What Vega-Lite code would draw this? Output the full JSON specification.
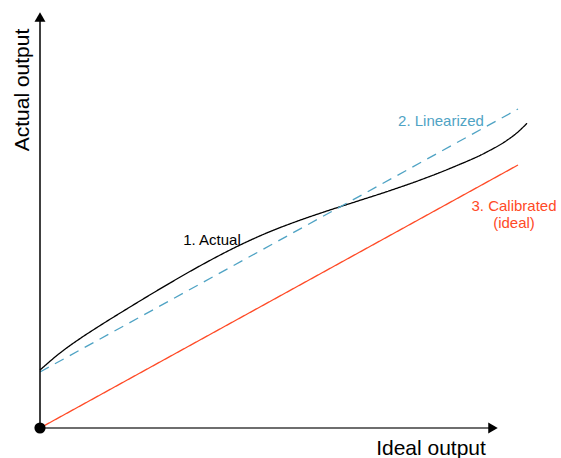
{
  "$schema": "https://vega.github.io/schema/vega-lite/v6.json",
  "width": 561,
  "height": 458,
  "autosize": {"type": "none"},
  "padding": 0,
  "background": "white",
  "config": {"view": {"stroke": null}},
  "datasets": {
    "curves": [
      {"series": "Actual", "x": 0, "y": 1.16},
      {"series": "Actual", "x": 0.4, "y": 1.5},
      {"series": "Actual", "x": 0.8, "y": 1.788},
      {"series": "Actual", "x": 1.2, "y": 2.048},
      {"series": "Actual", "x": 1.8, "y": 2.42},
      {"series": "Actual", "x": 2.6, "y": 2.9},
      {"series": "Actual", "x": 3.26, "y": 3.276},
      {"series": "Actual", "x": 3.94, "y": 3.63},
      {"series": "Actual", "x": 4.6, "y": 3.928},
      {"series": "Actual", "x": 5.2, "y": 4.156},
      {"series": "Actual", "x": 5.66, "y": 4.314},
      {"series": "Actual", "x": 6.34, "y": 4.534},
      {"series": "Actual", "x": 7.0, "y": 4.748},
      {"series": "Actual", "x": 7.6, "y": 4.958},
      {"series": "Actual", "x": 8.26, "y": 5.216},
      {"series": "Actual", "x": 8.94, "y": 5.522},
      {"series": "Actual", "x": 9.34, "y": 5.754},
      {"series": "Actual", "x": 9.54, "y": 5.904},
      {"series": "Actual", "x": 9.74, "y": 6.094},
      {"series": "Linearized", "x": 0, "y": 1.12},
      {"series": "Linearized", "x": 9.56, "y": 6.38},
      {"series": "Calibrated", "x": 0, "y": 0},
      {"series": "Calibrated", "x": 9.56, "y": 5.26}
    ],
    "axes": [
      {"name": "y", "x": 0, "y": 0, "x2": 0, "y2": 8.2, "color": "#000000", "w": 1.5},
      {"name": "x", "x": 0, "y": 0, "x2": 9.0, "y2": 0, "color": "#6e6e6e", "w": 2}
    ],
    "arrows": [
      {"shape": "triangle-up", "x": 0, "y": 8.22},
      {"shape": "triangle-right", "x": 9.06, "y": 0}
    ],
    "labels": [
      {"text": "1. Actual", "x": 3.44, "y": 3.66, "series": "Actual"},
      {"text": "2. Linearized", "x": 8.02, "y": 6.04, "series": "Linearized"},
      {"text": "3. Calibrated", "x": 9.48, "y": 4.34, "series": "Calibrated"},
      {"text": "(ideal)", "x": 9.48, "y": 4.0, "series": "Calibrated"}
    ],
    "titles": [
      {"text": "Ideal output", "x": 7.82, "y": -0.54, "angle": 0},
      {"text": "Actual output", "x": -0.22, "y": 6.76, "angle": 270}
    ]
  },
  "layer": [
    {
      "data": {"name": "curves"},
      "mark": {"type": "line", "interpolate": "monotone", "strokeWidth": 1.3},
      "encoding": {
        "x": {"field": "x", "type": "quantitative", "scale": {"domain": [-0.8, 10.42], "nice": false, "zero": false}, "axis": null},
        "y": {"field": "y", "type": "quantitative", "scale": {"domain": [-0.6, 8.56], "nice": false, "zero": false}, "axis": null},
        "color": {"field": "series", "type": "nominal", "scale": {"domain": ["Actual", "Linearized", "Calibrated"], "range": ["#000000", "#4fa3c4", "#ff4a26"]}, "legend": null},
        "strokeDash": {"field": "series", "type": "nominal", "scale": {"domain": ["Actual", "Linearized", "Calibrated"], "range": [[1, 0], [10, 7], [1, 0]]}, "legend": null}
      }
    },
    {
      "data": {"name": "axes"},
      "mark": {"type": "rule"},
      "encoding": {
        "x": {"field": "x", "type": "quantitative"},
        "y": {"field": "y", "type": "quantitative"},
        "x2": {"field": "x2"},
        "y2": {"field": "y2"},
        "stroke": {"field": "color", "type": "nominal", "scale": null},
        "strokeWidth": {"field": "w", "type": "quantitative", "scale": null}
      }
    },
    {
      "data": {"name": "arrows"},
      "mark": {"type": "point", "filled": true, "color": "#000000", "size": 120, "opacity": 1},
      "encoding": {
        "x": {"field": "x", "type": "quantitative"},
        "y": {"field": "y", "type": "quantitative"},
        "shape": {"field": "shape", "type": "nominal", "scale": null}
      }
    },
    {
      "data": {"values": [{"x": 0, "y": 0}]},
      "mark": {"type": "circle", "color": "#000000", "size": 125, "opacity": 1},
      "encoding": {
        "x": {"field": "x", "type": "quantitative"},
        "y": {"field": "y", "type": "quantitative"}
      }
    },
    {
      "data": {"name": "labels"},
      "mark": {"type": "text", "font": "Liberation Sans", "fontSize": 15, "baseline": "alphabetic", "align": "center"},
      "encoding": {
        "x": {"field": "x", "type": "quantitative"},
        "y": {"field": "y", "type": "quantitative"},
        "text": {"field": "text"},
        "color": {"field": "series", "type": "nominal", "scale": {"domain": ["Actual", "Linearized", "Calibrated"], "range": ["#000000", "#4a9dbb", "#ff4a26"]}, "legend": null}
      }
    },
    {
      "data": {"name": "titles"},
      "mark": {"type": "text", "font": "Liberation Sans", "fontSize": 21, "baseline": "alphabetic", "align": "center", "color": "#000000"},
      "encoding": {
        "x": {"field": "x", "type": "quantitative"},
        "y": {"field": "y", "type": "quantitative"},
        "text": {"field": "text"},
        "angle": {"field": "angle", "type": "quantitative", "scale": null}
      }
    }
  ]
}
